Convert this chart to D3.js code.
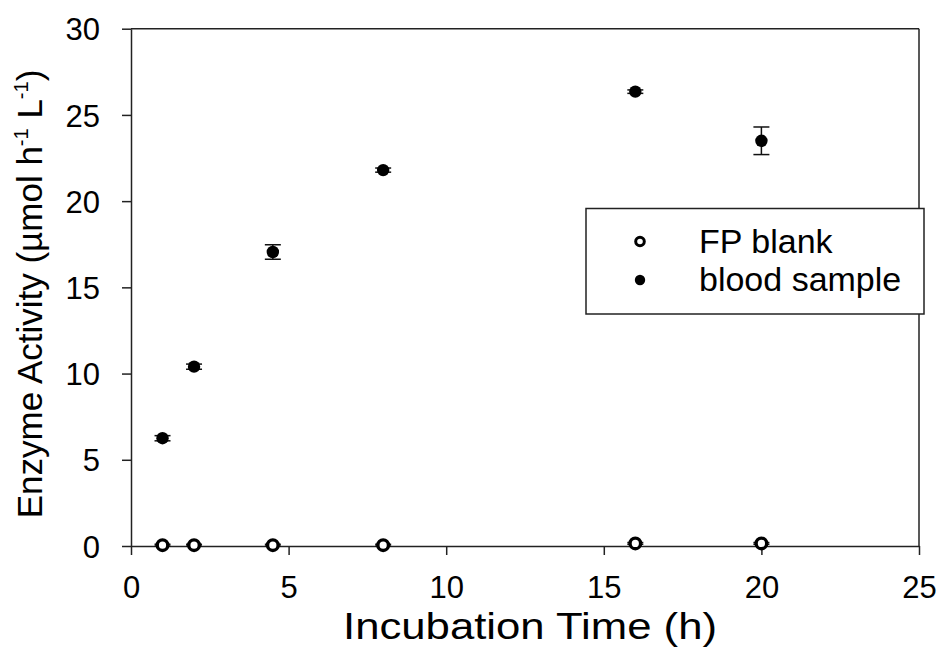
<!DOCTYPE html>
<html>
<head>
<meta charset="utf-8">
<script src="https://cdn.jsdelivr.net/npm/d3@7"></script>
<style>
  html, body { margin: 0; padding: 0; background: #fff; }
  svg { display: block; font-family: Arial, 'Liberation Sans', sans-serif; }
</style>
</head>
<body>
<div id="chart"></div>
<script>
// ─── Data ───
const hours = [1, 2, 4.5, 8, 16, 20];
const bloodMean = [6.25, 10.4, 17.05, 21.8, 26.35, 23.5];
const bloodErr = [0.15, 0.15, 0.42, 0.12, 0.1, 0.8];
const blankMean = [0.05, 0.05, 0.05, 0.05, 0.15, 0.15];
const blankErr = [0.05, 0.05, 0.05, 0.05, 0.05, 0.05];
const xTicks = [0, 5, 10, 15, 20, 25];
const yTicks = [0, 5, 10, 15, 20, 25, 30];

const W = 943, H = 648;
const plotL = 131, plotR = 919, plotT = 28.7, plotB = 546;
const ink = '#222';

const svg = d3.select('#chart').append('svg')
  .attr('width', W).attr('height', H);

const x = d3.scaleLinear().domain([0, 25]).range([plotL, plotR]);
const y = d3.scaleLinear().domain([0, 30]).range([plotB, plotT]);

// ─── Frame (top + right) ───
svg.append('line')
  .attr('x1', plotL).attr('x2', plotR).attr('y1', plotT).attr('y2', plotT)
  .attr('stroke', ink).attr('stroke-width', 1.5);
svg.append('line')
  .attr('x1', plotR).attr('x2', plotR).attr('y1', plotT).attr('y2', plotB)
  .attr('stroke', ink).attr('stroke-width', 1.5);

// ─── Axes ───
const xAxis = svg.append('g')
  .attr('transform', `translate(0,${plotB})`)
  .call(d3.axisBottom(x).tickValues(xTicks).tickSize(9).tickSizeOuter(0).tickPadding(4));
const yAxis = svg.append('g')
  .attr('transform', `translate(${plotL},0)`)
  .call(d3.axisLeft(y).tickValues(yTicks).tickSize(9).tickSizeOuter(0).tickPadding(22));

[xAxis, yAxis].forEach(a => {
  a.select('.domain').attr('stroke', ink).attr('stroke-width', 1.5);
  a.selectAll('.tick line').attr('stroke', ink).attr('stroke-width', 1.5);
  a.selectAll('.tick text')
    .attr('fill', '#000')
    .attr('font-size', '31px')
    .attr('font-family', "Arial, 'Liberation Sans', sans-serif");
});
xAxis.selectAll('.tick text').attr('dy', null).attr('y', 52);
yAxis.selectAll('.tick text').attr('dy', '0.36em');

// ─── Axis titles ───
svg.append('text')
  .attr('x', 530)
  .attr('y', 639)
  .attr('text-anchor', 'middle')
  .attr('font-size', '37px')
  .attr('textLength', 374)
  .attr('lengthAdjust', 'spacingAndGlyphs')
  .text('Incubation Time (h)');

const yTitle = svg.append('text')
  .attr('transform', 'translate(42,294) rotate(-90)')
  .attr('text-anchor', 'middle')
  .attr('font-size', '35px');
yTitle.append('tspan').text('Enzyme Activity (\u00b5mol h');
yTitle.append('tspan').attr('font-size', '20px').attr('dy', -14).text('-1');
yTitle.append('tspan').attr('dy', 14).text(' L');
yTitle.append('tspan').attr('font-size', '20px').attr('dy', -14).text('-1');
yTitle.append('tspan').attr('dy', 14).text(')');

// ─── Error bars ───
function errorBars(means, errs) {
  const cap = 8;
  const g = svg.append('g').attr('stroke', '#111').attr('stroke-width', 1.5);
  hours.forEach((h, i) => {
    const cx = x(h), y1 = y(means[i] - errs[i]), y2 = y(means[i] + errs[i]);
    g.append('line').attr('x1', cx).attr('x2', cx).attr('y1', y1).attr('y2', y2);
    g.append('line').attr('x1', cx - cap).attr('x2', cx + cap).attr('y1', y1).attr('y2', y1);
    g.append('line').attr('x1', cx - cap).attr('x2', cx + cap).attr('y1', y2).attr('y2', y2);
  });
}
errorBars(bloodMean, bloodErr);
errorBars(blankMean, blankErr);

// ─── Points ───
svg.append('g').selectAll('circle')
  .data(hours)
  .join('circle')
  .attr('cx', d => x(d))
  .attr('cy', (d, i) => y(bloodMean[i]))
  .attr('r', 6.2)
  .attr('fill', '#000');

svg.append('g').selectAll('circle')
  .data(hours)
  .join('circle')
  .attr('cx', d => x(d))
  .attr('cy', (d, i) => y(blankMean[i]))
  .attr('r', 5.3)
  .attr('fill', '#fff')
  .attr('stroke', '#000')
  .attr('stroke-width', 3.4);

// ─── Legend ───
const lg = svg.append('g');
lg.append('rect')
  .attr('x', 586).attr('y', 208.5)
  .attr('width', 338).attr('height', 105.5)
  .attr('fill', '#fff').attr('stroke', ink).attr('stroke-width', 1.5);
lg.append('circle')
  .attr('cx', 640).attr('cy', 241.5).attr('r', 4.3)
  .attr('fill', '#fff').attr('stroke', '#000').attr('stroke-width', 3);
lg.append('circle')
  .attr('cx', 640).attr('cy', 280).attr('r', 5.2)
  .attr('fill', '#000');
lg.append('text')
  .attr('x', 699).attr('y', 252.5)
  .attr('font-size', '34px')
  .text('FP blank');
lg.append('text')
  .attr('x', 699).attr('y', 291)
  .attr('font-size', '34px')
  .text('blood sample');
</script>
</body>
</html>
